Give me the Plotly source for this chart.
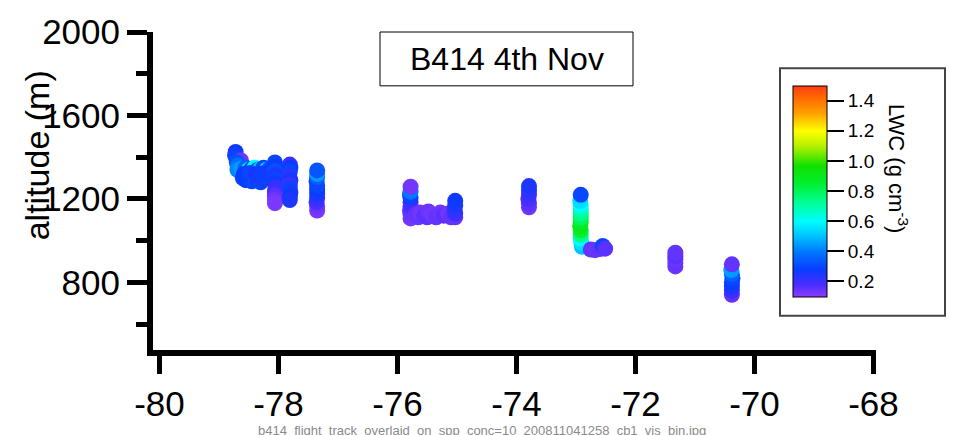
import plotly.graph_objects as go

# Flight track of B414 (4 Nov): longitude (deg), altitude (m) and liquid water content (g cm^-3)
lon = [
    # leg near -78.7 .. -78.0
    -78.72, -78.73, -78.71, -78.63, -78.70, -78.68, -78.69,
    -78.60, -78.55, -78.50, -78.45, -78.40, -78.35, -78.30, -78.25, -78.20,
    -78.62, -78.55, -78.50, -78.45, -78.40, -78.35, -78.30, -78.25, -78.20, -78.15, -78.10,
    -78.58, -78.48, -78.38, -78.28, -78.18,
    -78.06, -78.05, -78.06, -78.05, -78.06, -78.06, -78.05, -78.06, -78.06, -78.06, -78.06,
    -77.81, -77.80, -77.81, -77.82, -77.80, -77.81, -77.81, -77.80, -77.81, -77.81,
    -77.35, -77.35, -77.36, -77.35, -77.35, -77.35, -77.35, -77.36, -77.35, -77.35, -77.35,
    # leg near -75.8 .. -75.0
    -75.78, -75.78, -75.79, -75.78, -75.78, -75.78, -75.79, -75.78, -75.78,
    -75.65, -75.50, -75.35,
    -75.70, -75.62, -75.55, -75.48, -75.42, -75.35, -75.28, -75.22, -75.15, -75.10,
    -75.03, -75.03, -75.04, -75.03, -75.03,
    # leg near -73.8
    -73.79, -73.79, -73.80, -73.79, -73.79, -73.79,
    # leg near -72.9 .. -72.5
    -72.90, -72.91, -72.92, -72.92, -72.92, -72.93, -72.92, -72.92, -72.92, -72.92, -72.92, -72.93, -72.92,
    -72.75, -72.68, -72.60, -72.55, -72.51,
    # leg near -71.3
    -71.33, -71.33, -71.33, -71.33, -71.33,
    # leg near -70.4
    -70.38, -70.38, -70.38, -70.38, -70.37, -70.38, -70.39, -70.38,
]
alt = [
    1425, 1410, 1395, 1385, 1375, 1360, 1340,
    1300, 1290, 1305, 1285, 1300, 1290, 1280, 1295, 1300,
    1345, 1350, 1340, 1345, 1350, 1340, 1345, 1350, 1340, 1345, 1350,
    1320, 1325, 1318, 1322, 1325,
    1375, 1355, 1335, 1315, 1295, 1275, 1255, 1235, 1215, 1195, 1180,
    1365, 1350, 1330, 1310, 1290, 1270, 1250, 1230, 1210, 1195,
    1145, 1165, 1185, 1205, 1225, 1245, 1265, 1285, 1305, 1320, 1337,
    1107, 1125, 1145, 1165, 1185, 1205, 1220, 1235, 1259,
    1112, 1112, 1112,
    1125, 1135, 1120, 1140, 1125, 1115, 1135, 1120, 1130, 1112,
    1112, 1130, 1150, 1170, 1191,
    1160, 1180, 1200, 1220, 1240, 1262,
    971, 990, 1010, 1030, 1050, 1070, 1090, 1110, 1130, 1150, 1170, 1190, 1220,
    958, 955, 960, 975, 962,
    877, 893, 910, 926, 943,
    741, 760, 780, 800, 820, 840, 860, 887,
]
lwc = [
    0.28, 0.25, 0.30, 0.13, 0.32, 0.38, 0.42,
    0.30, 0.28, 0.25, 0.30, 0.32, 0.27, 0.30, 0.25, 0.30,
    0.45, 0.35, 0.55, 0.30, 0.60, 0.35, 0.50, 0.30, 0.55, 0.35, 0.30,
    0.28, 0.30, 0.26, 0.29, 0.27,
    0.30, 0.28, 0.32, 0.25, 0.30, 0.27, 0.22, 0.20, 0.16, 0.13, 0.12,
    0.20, 0.28, 0.30, 0.22, 0.27, 0.20, 0.30, 0.25, 0.28, 0.25,
    0.12, 0.14, 0.18, 0.22, 0.25, 0.28, 0.30, 0.30, 0.35, 0.45, 0.33,
    0.13, 0.14, 0.15, 0.18, 0.20, 0.25, 0.30, 0.40, 0.13,
    0.14, 0.15, 0.13,
    0.15, 0.13, 0.16, 0.14, 0.13, 0.15, 0.14, 0.16, 0.13, 0.15,
    0.15, 0.20, 0.22, 0.25, 0.27,
    0.14, 0.16, 0.18, 0.20, 0.22, 0.25,
    0.50, 0.55, 0.60, 0.75, 0.85, 0.90, 0.88, 0.80, 0.75, 0.70, 0.60, 0.55, 0.30,
    0.15, 0.14, 0.15, 0.30, 0.16,
    0.14, 0.15, 0.14, 0.16, 0.15,
    0.15, 0.20, 0.25, 0.28, 0.30, 0.35, 0.45, 0.15,
]

x_ticks = [-80, -78, -76, -74, -72, -70, -68]
x_ticktext = ["-80", "-78", "-76", "-74", "-72", "-70", "-68"]
cbar_ticks = [0.2, 0.4, 0.6, 0.8, 1.0, 1.2, 1.4]

rainbow = [
    [0.000, "#8c3cff"],
    [0.057, "#4a2dff"],
    [0.129, "#0a3cff"],
    [0.214, "#0078ff"],
    [0.286, "#00c0ff"],
    [0.357, "#00fcff"],
    [0.443, "#00ff9a"],
    [0.536, "#00f030"],
    [0.621, "#10e000"],
    [0.714, "#b4f000"],
    [0.786, "#ffff00"],
    [0.871, "#ffa000"],
    [0.943, "#ff6a00"],
    [1.000, "#ff3c14"],
]

FONT = "Liberation Sans, Arial, sans-serif"

# plot area in pixels: x 153..876, y 30..355
L, R, T, B = 153, 85, 30, 80
W, H = 961, 435
PW, PH = W - L - R, H - T - B


def px(xp):
    return (xp - L) / PW


def py(yp):
    return (H - B - yp) / PH


fig = go.Figure()
fig.add_trace(go.Scatter(
    x=lon, y=alt, mode="markers",
    marker=dict(
        size=16, color=lwc, colorscale=rainbow, cmin=0.1, cmax=1.5,
        line=dict(width=0), opacity=1,
        showscale=True,
        colorbar=dict(
            x=px(793), xanchor="left", xpad=0,
            y=py(192.5), yanchor="middle", ypad=0,
            len=211, lenmode="pixels",
            thickness=34, thicknessmode="pixels",
            outlinecolor="black", outlinewidth=1,
            borderwidth=0,
            tickvals=cbar_ticks, tickformat=".1f",
            ticks="outside", ticklen=17, tickwidth=1.5, tickcolor="black",
            tickfont=dict(family=FONT, size=19, color="black"),
        ),
    ),
    hoverinfo="skip",
))

fig.update_layout(
    width=W, height=H,
    margin=dict(l=L, r=R, t=T, b=B, pad=0),
    paper_bgcolor="white", plot_bgcolor="white",
    showlegend=False,
    font=dict(family=FONT, color="black"),
    xaxis=dict(
        range=[-80.109, -67.958], tickvals=x_ticks, ticktext=x_ticktext,
        showgrid=False, zeroline=False,
        showline=True, linecolor="black", linewidth=6,
        ticks="outside", ticklen=18, tickwidth=5, tickcolor="black",
        tickfont=dict(family=FONT, size=35, color="black"),
    ),
    yaxis=dict(
        range=[476.6, 2000], tick0=0, dtick=400,
        showgrid=False, zeroline=False,
        showline=True, linecolor="black", linewidth=6,
        ticks="outside", ticklen=20, tickwidth=5, tickcolor="black",
        tickfont=dict(family=FONT, size=35, color="black"),
        minor=dict(dtick=200, tick0=0, ticks="outside", ticklen=11,
                   tickwidth=5, tickcolor="black", showgrid=False),
    ),
    shapes=[
        # title box
        dict(type="rect", xref="paper", yref="paper",
             x0=px(380), x1=px(633), y0=py(85), y1=py(30),
             line=dict(color="black", width=1), fillcolor="white", layer="above"),
        # colour-scale frame
        dict(type="rect", xref="paper", yref="paper",
             x0=px(780), x1=px(945), y0=py(320), y1=py(67),
             line=dict(color="#444444", width=2), fillcolor="rgba(0,0,0,0)", layer="above"),
    ],
    annotations=[
        dict(text="B414 4th Nov", xref="paper", yref="paper",
             x=px(506.5), y=py(57.5), xanchor="center", yanchor="middle",
             showarrow=False, font=dict(family=FONT, size=32, color="black")),
        dict(text="altitude (m)", xref="paper", yref="paper",
             x=px(37), y=py(156), xanchor="center", yanchor="middle",
             textangle=-90, showarrow=False,
             font=dict(family=FONT, size=34, color="black")),
        dict(text="LWC (g cm<sup>-3</sup>)", xref="paper", yref="paper",
             x=px(898), y=py(170), xanchor="center", yanchor="middle",
             textangle=90, showarrow=False,
             font=dict(family=FONT, size=22, color="black")),
        dict(text="b414_flight_track_overlaid_on_spp_conc=10_200811041258_cb1_vis_bin.jpg",
             xref="paper", yref="paper",
             x=px(482), y=py(428), xanchor="center", yanchor="top",
             showarrow=False, font=dict(family=FONT, size=13, color="#8a8a8a")),
    ],
)

fig.write_html("out.html")
